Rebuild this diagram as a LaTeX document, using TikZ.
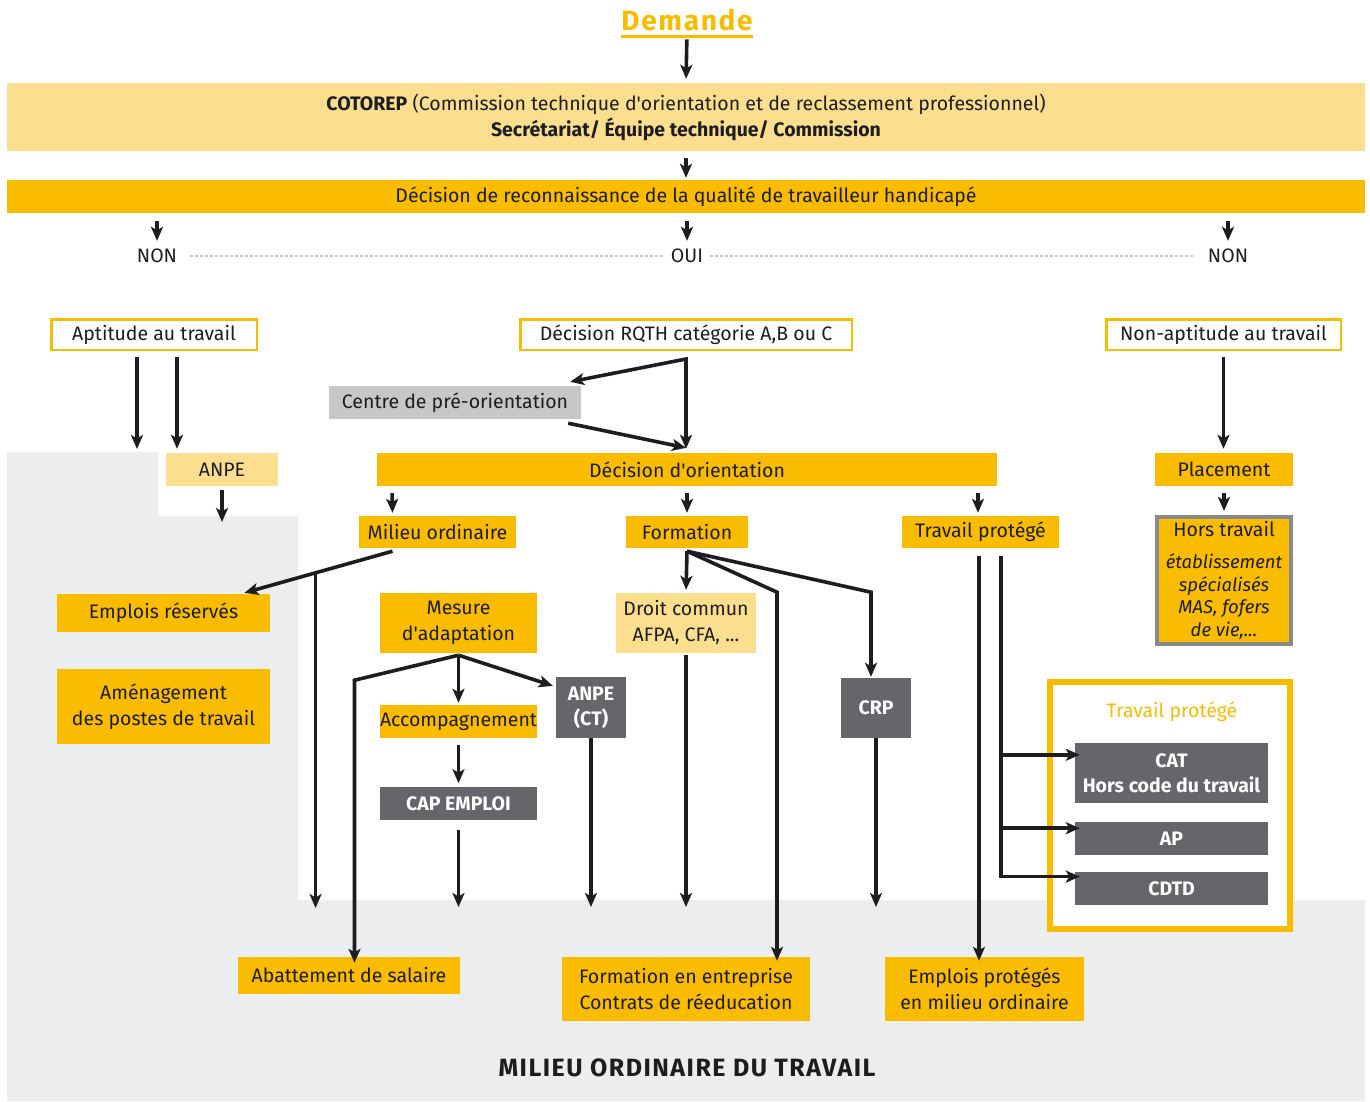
\documentclass[tikz,border=0pt]{standalone}
\usepackage{fontspec}
\setmainfont{Fira Sans}
\newfontfamily\spacedfont[LetterSpace=6]{Fira Sans}
\usetikzlibrary{arrows.meta, positioning, calc}

\definecolor{cotorange}{RGB}{249,188,0}
\definecolor{cotlight}{RGB}{252,223,142}
\definecolor{cotgrey}{RGB}{198,199,201}
\definecolor{cotdark}{RGB}{101,101,106}
\definecolor{cotbg}{RGB}{236,237,239}
\definecolor{cotink}{RGB}{29,29,31}
\definecolor{cotframe}{RGB}{138,138,140}

\newcommand{\aq}{\textquotesingle}

\begin{document}
\begin{tikzpicture}[x=1pt, y=-1pt,
	font=\fontsize{19.5}{26}\selectfont,
	every node/.style={text=cotink, inner sep=0pt},
	bar/.style={fill=cotorange, minimum height=33pt},
	pale/.style={fill=cotlight, minimum height=33pt},
	outline/.style={draw=cotorange, line width=2.5pt, fill=white, minimum height=30.5pt},
	darkbox/.style={fill=cotdark, text=white, font=\fontsize{19.5}{25}\selectfont\bfseries, align=center},
	link/.style={draw=cotink, line width=3.6pt},
	arr/.style={link, -{Stealth[length=14pt,width=12pt,inset=3.5pt]}},
	dots/.style={draw=cotgrey, line width=2pt, dash pattern=on 2.5pt off 2.5pt}]
	\useasboundingbox (0,0) rectangle (1370,1102);
	% Add the background
	\fill[cotbg] (7,452) -- (158,452) -- (158,516) -- (298,516) -- (298,900)
		-- (1365,900) -- (1365,1101) -- (7,1101) -- cycle;

	% Add the top
	\node[font=\fontsize{28}{30}\spacedfont\bfseries, text=cotorange] (dem) at (687,20) {Demande};
	\draw[cotorange, line width=3pt] ([yshift=-6pt]dem.base west) -- ([yshift=-6pt]dem.base east);
	\node[fill=cotlight,
		minimum width=1358pt,
		minimum height=68pt,
		align=center] (cot) at (686,117)
		{\textbf{COTOREP} (Commission technique d\aq orientation et de reclassement professionnel)\\
		 \textbf{Secrétariat/ Équipe technique/ Commission}};
	\node[bar, minimum width=1358pt] (drec) at (686,196.5)
		{Décision de reconnaissance de la qualité de travailleur handicapé};
	\node (non1) at (157,256) {NON};
	\node (oui) at (687,256) {OUI};
	\node (non2) at (1228,256) {NON};

	% Add the first decisions
	\node[outline, minimum width=205.5pt] (apt) at (154,334.5) {Aptitude au travail};
	\node[outline, minimum width=331.5pt] (rqth) at (686,334.5) {Décision RQTH catégorie A,B ou C};
	\node[outline, minimum width=234.5pt] (napt) at (1223.5,334.5) {Non-aptitude au travail};
	\node[fill=cotgrey, minimum width=252pt, minimum height=33pt] (cpo) at (455,402.5) {Centre de pré-orientation};
	\node[pale, minimum width=112pt] (anpe) at (222,469.5) {ANPE};
	\node[bar, minimum width=620pt] (dorient) at (687,469.5) {Décision d\aq orientation};
	\node[bar, minimum width=138pt] (place) at (1224,469.5) {Placement};
	\node[fill=cotorange,
		draw=cotframe,
		line width=4pt,
		minimum width=134pt,
		minimum height=127pt,
		align=center,
		font=\fontsize{18.5}{22.7}\selectfont] (hors) at (1224,580.5)
		{\fontsize{19.5}{22.7}\selectfont Hors travail\\[9pt]
		 \textit{établissement}\\ \textit{spécialisés}\\ \textit{MAS, fofers}\\ \textit{de vie,...}};

	% Add the orientations
	\node[bar, minimum width=157pt, minimum height=32pt] (milord) at (437.5,532) {Milieu ordinaire};
	\node[bar, minimum width=122pt, minimum height=32pt] (form) at (687,532) {Formation};
	\node[bar, minimum width=157pt, minimum height=32pt] (tp) at (980.5,532) {Travail protégé};
	\node[bar, minimum width=213pt, minimum height=38pt] (emres) at (163.5,613) {Emplois réservés};
	\node[bar, minimum width=213pt, minimum height=75pt, align=center] (amen) at (163.5,706.5)
		{Aménagement\\des postes de travail};
	\node[bar, minimum width=157pt, minimum height=60pt, align=center] (mes) at (458.5,623)
		{Mesure\\d\aq adaptation};
	\node[pale, minimum width=140pt, minimum height=60pt, align=center] (droit) at (686,623)
		{Droit commun\\AFPA, CFA, ...};
	\node[bar, minimum width=157pt] (acc) at (458.5,721.5) {Accompagnement};
	\node[darkbox, minimum width=157pt, minimum height=33pt, below=49pt of acc] (cap) {CAP EMPLOI};
	\node[darkbox, minimum width=70pt, minimum height=61pt] (anpect) at (591,707.5) {ANPE\\(CT)};
	\node[darkbox, minimum width=70pt, minimum height=60pt] (crp) at (876,708) {CRP};

	% Add the sheltered work frame
	\node[draw=cotorange, line width=6pt, fill=white,
		minimum width=240pt, minimum height=247pt] (tpframe) at (1170,805.5) {};
	\node[text=cotorange] (tptitle) at (1172,712) {Travail protégé};
	\node[darkbox, minimum width=193pt, minimum height=60pt] (cat) at (1171.5,773) {CAT\\Hors code du travail};
	\node[darkbox, minimum width=193pt, minimum height=33pt, below=19pt of cat] (ap) {AP};
	\node[darkbox, minimum width=193pt, minimum height=33pt, below=16pt of ap] (cdtd) {CDTD};

	% Add the results
	\node[bar, minimum width=222pt, minimum height=37pt] (abat) at (349,975.5) {Abattement de salaire};
	\node[bar, minimum width=248pt, minimum height=64pt, align=center] (fent) at (686,989)
		{Formation en entreprise\\Contrats de réeducation};
	\node[bar, minimum width=199pt, minimum height=64pt, align=center] (eprot) at (984.5,989)
		{Emplois protégés\\en milieu ordinaire};
	\node[font=\fontsize{25}{28}\spacedfont\bfseries] (mot) at (687,1068) {MILIEU ORDINAIRE DU TRAVAIL};

	% Free ends
	\coordinate (aptend) at (137,449);
	\coordinate (anpeend) at (222,522);
	\coordinate (moend) at (316,908);
	\coordinate (lowend) at (461,907);
	\coordinate (abtop) at ([yshift=-6pt]abat.north);
	\coordinate (fetop) at ([yshift=-4pt]fent.north);
	\coordinate (eptop) at ([yshift=-4pt]eprot.north);

	% Add the arrows
	\draw[arr, shorten <=9pt, shorten >=4pt] (dem.base) -- (cot.north);
	\draw[arr, shorten <=7pt, shorten >=2pt] (cot.south) -- (drec.north);
	\draw[arr, shorten <=8pt, shorten >=8pt] (drec.south -| non1) -- (non1.north);
	\draw[arr, shorten <=8pt, shorten >=8pt] (drec.south -| oui) -- (oui.north);
	\draw[arr, shorten <=8pt, shorten >=8pt] (drec.south -| non2) -- (non2.north);
	\draw[dots, shorten <=13pt, shorten >=7pt] (non1) -- (oui);
	\draw[dots, shorten <=7pt, shorten >=13pt] (oui) -- (non2);

	\draw[arr, shorten <=6pt] ([xshift=-17pt]apt.south) -- (aptend);
	\draw[arr, shorten <=6pt, shorten >=4pt] ([xshift=23pt]apt.south) -- ([xshift=-45pt]anpe.north);
	\draw[arr, shorten <=4pt] (anpe.south) -- (anpeend);

	\draw[link, {Stealth[length=14pt,width=12pt,inset=3.5pt]}-{Stealth[length=14pt,width=12pt,inset=3.5pt]}]
		([xshift=-11pt,yshift=4pt]cpo.north east) -- ([yshift=-8pt]rqth.south)
		-- ([yshift=4pt]rqth.south |- dorient.north);
	\draw[arr] ([xshift=-13pt,yshift=-4pt]cpo.south east) -- ([xshift=-1pt,yshift=5pt]dorient.north);
	\draw[arr, shorten <=6pt, shorten >=4pt] (napt.south) -- (napt.south |- place.north);
	\draw[arr, shorten <=7pt, shorten >=4pt] (place.south) -- (hors.north);

	\draw[arr, shorten <=7pt, shorten >=3pt] ([xshift=-295pt]dorient.south) -- ([xshift=-45pt]milord.north);
	\draw[arr, shorten <=7pt, shorten >=3pt] (dorient.south) -- (form.north);
	\draw[arr, shorten <=7pt, shorten >=3pt] ([xshift=291pt]dorient.south) -- ([xshift=-2.5pt]tp.north);

	% milieu ordinaire
	\coordinate (mo1) at ([xshift=-45pt,yshift=-3pt]milord.south);
	\coordinate (er1) at ([xshift=81pt,yshift=1pt]emres.north);
	\coordinate (mojn) at ($(mo1)!0.52!(er1)$);
	\draw[arr] (mo1) -- (er1);
	\draw[arr] (mojn) -- (mojn |- moend);

	% mesure d'adaptation
	\coordinate (mtop) at ([yshift=-2pt]mes.south);
	\draw[arr] (mtop) -- ++(-104,25) coordinate (mc) -- (mc |- abtop);
	\draw[arr, shorten >=2pt] (mtop) -- (acc.north);
	\draw[arr] (mtop) -- ([xshift=-3pt,yshift=-9pt]anpect.north west);
	\draw[arr, shorten <=7pt, shorten >=4pt] (acc.south) -- (cap.north);
	\draw[arr, shorten <=9pt] (cap.south) -- (cap.south |- lowend);
	\draw[arr] (anpect.south) -- (anpect.south |- lowend);

	% formation
	\coordinate (ftop) at ([yshift=-3pt]form.south);
	\draw[arr, shorten >=3pt] (ftop) -- (droit.north);
	\draw[arr] (ftop) -- ++(90,41) coordinate (fc1) -- (fc1 |- fetop);
	\draw[arr, shorten >=1pt] (ftop) -- ++(184,41) coordinate (fc2) -- (fc2 |- crp.north);
	\draw[arr, shorten <=2pt] (droit.south) -- (droit.south |- lowend);
	\draw[arr] (crp.south) -- (crp.south |- lowend);

	% travail protege
	\coordinate (tpa) at ([xshift=-1.5pt,yshift=-8pt]tp.south);
	\coordinate (tpb) at ([xshift=20.5pt,yshift=-8pt]tp.south);
	\coordinate (t1) at ([xshift=5pt,yshift=-12pt]cat.north west);
	\coordinate (t2) at ([xshift=5pt,yshift=-6pt]ap.north west);
	\coordinate (t3) at ([xshift=5pt,yshift=-5pt]cdtd.north west);
	\draw[arr] (tpa) -- (tpa |- eptop);
	\draw[arr] (tpb) |- (t3);
	\draw[arr] (tpb |- t1) -- (t1);
	\draw[arr] (tpb |- t2) -- (t2);
\end{tikzpicture}
\end{document}
